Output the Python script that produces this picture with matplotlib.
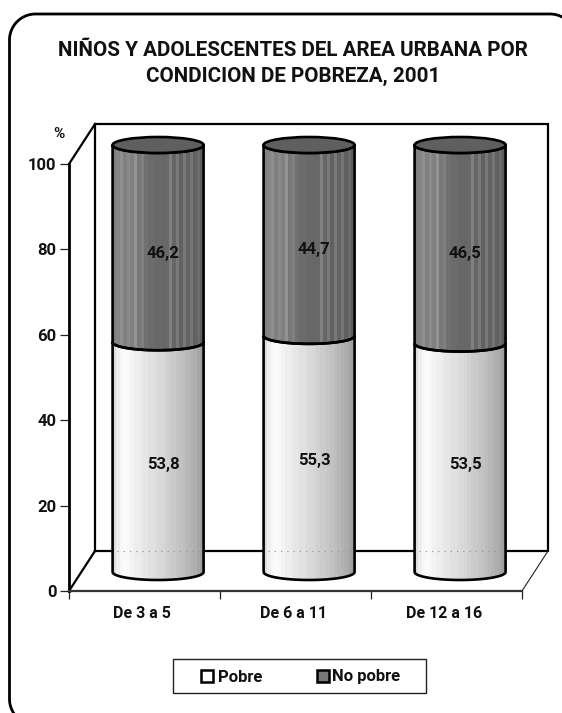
import numpy as np
import matplotlib
matplotlib.use("Agg")
import matplotlib.pyplot as plt
from matplotlib.patches import Ellipse, PathPatch, Rectangle
from matplotlib.path import Path

categories = ["De 3 a 5", "De 6 a 11", "De 12 a 16"]
pobre = [53.8, 55.3, 53.5]
no_pobre = [46.2, 44.7, 46.5]
pobre_labels = ["53,8", "55,3", "53,5"]
no_pobre_labels = ["46,2", "44,7", "46,5"]
y_ticks = [0, 20, 40, 60, 80, 100]
title = "NIÑOS Y ADOLESCENTES DEL AREA URBANA POR\nCONDICION DE POBREZA, 2001"

W, H = 562, 713
plt.rcParams["font.family"] = "Roboto"
plt.rcParams["font.weight"] = "bold"

fig = plt.figure(figsize=(W / 100, H / 100), dpi=100, facecolor="white")

# page-level layer in pixels (frame, title, legend)
page = fig.add_axes([0, 0, 1, 1], zorder=0)
page.set_xlim(0, W); page.set_ylim(H, 0); page.axis("off")


def corner(cx, cy, r, a0, a1):
    a = np.radians(np.linspace(a0, a1, 30))
    return np.column_stack([cx + r * np.cos(a), cy + r * np.sin(a)])


fx0, fy0, fx1, fy1, fr = 9.5, 14, 576, 725, 26
frame = np.vstack([
    corner(fx0 + fr, fy1 - fr, fr, 90, 180),
    corner(fx0 + fr, fy0 + fr, fr, 180, 270),
    corner(fx1 - fr, fy0 + fr, fr, 270, 360),
    corner(fx1 - fr, fy1 - fr, fr, 0, 90),
])
page.plot(frame[:, 0], frame[:, 1], color="black", lw=2.0)

page.text(293, 50, title.split("\n")[0], ha="center", va="center", fontsize=14.9, color="#111111")
page.text(293, 76, title.split("\n")[1], ha="center", va="center", fontsize=14.9, color="#111111")

page.add_patch(Rectangle((173, 659), 253, 34, fc="white", ec="#222222", lw=1.0))
page.add_patch(Rectangle((201, 670), 12, 12, fc="white", ec="black", lw=1.8))
page.add_patch(Rectangle((316.5, 670), 12, 12, fc="#777777", ec="black", lw=1.8))
page.text(218, 677, "Pobre", ha="left", va="center", fontsize=12, color="#111111")
page.text(332, 677, "No pobre", ha="left", va="center", fontsize=12, color="#111111")

# chart layer: axes whose box is the front plane of the 3-D plot
L, R, T, B = 69, 522, 164, 591
ax = fig.add_axes([L / W, 1 - B / H, (R - L) / W, (B - T) / H], zorder=1)
ax.patch.set_alpha(0)
ax.set_xlim(0, 3); ax.set_ylim(0, 100)
for s in ax.spines.values():
    s.set_visible(False)
px_x = 3 / (R - L)
px_y = 100 / (B - T)
dx, dy = 26 * px_x, 40 * px_y

# walls
lw_w = 1.6
ax.plot([dx, 3 + dx, 3 + dx, dx, dx], [dy, dy, 100 + dy, 100 + dy, dy], color="black", lw=lw_w, clip_on=False, zorder=2, solid_joinstyle="miter")
ax.plot([0, dx], [100, 100 + dy], color="black", lw=lw_w, clip_on=False, zorder=2)
ax.plot([0, dx], [0, dy], color="black", lw=lw_w, clip_on=False, zorder=2)
ax.plot([3, 3 + dx], [0, dy], color="#222222", lw=0.8, clip_on=False, zorder=2)
ax.plot([0, 0], [0, 100], color="black", lw=2.0, clip_on=False, zorder=3)
ax.plot([0, 3], [0, 0], color="#333333", lw=1.6, clip_on=False, zorder=3)

ax.set_xticks([0, 1, 2, 3])
ax.set_xticklabels([])
ax.set_yticks(y_ticks)
ax.set_yticklabels([str(v) for v in y_ticks], fontsize=12, color="#111111")
ax.tick_params(axis="y", length=6.5, width=0.9, color="#222222", pad=2.5)
ax.tick_params(axis="x", length=5.5, width=0.9, color="#222222")
for i, c in enumerate(categories):
    ax.annotate(c, xy=(i + 0.5, 0), xytext=(-2.5, -22), textcoords="offset pixels", ha="center", va="center",
                fontsize=11.5, color="#111111", annotation_clip=False)
ax.annotate("%", xy=(0, 100), xytext=(-10, 30), textcoords="offset pixels", ha="center", va="center",
            fontsize=11, color="#111111", annotation_clip=False)

# vertical shading of the cylinders
shade_light = np.array([.86, .93, .97, .98, .97, .95, .93, .93, .91, .90, .88, .88, .86, .85, .84, .82,
                        .80, .79, .77, .76, .74, .72, .70, .68, .65, .62])
shade_dark = np.array([.50, .52, .56, .50, .54, .50, .58, .47, .50, .44, .42, .42, .41, .41, .40, .41,
                       .50, .40, .48, .38, .47, .39, .46, .38, .42, .36])

half_w = 0.5 * 91 * px_x
ell_h = 8 * px_y
base = 19 * px_y
offset = 0.59


def body(c, y0, y1):
    t = np.linspace(np.pi, 2 * np.pi, 60)
    lower = np.column_stack([c + half_w * np.cos(t), y0 + ell_h * np.sin(t)])
    upper = np.column_stack([c + half_w * np.cos(t[::-1]), y1 + ell_h * np.sin(t[::-1])])
    return np.vstack([lower, upper, lower[:1]])


def segment(c, y0, y1, shade, z):
    verts = body(c, y0, y1)
    outline = PathPatch(Path(verts), fc="none", ec="black", lw=1.9, clip_on=False, zorder=z + 1, joinstyle="round")
    im = ax.imshow(shade[None, :], cmap="gray", vmin=0, vmax=1, aspect="auto", interpolation="nearest",
                   extent=(c - half_w, c + half_w, y0 - ell_h, y1 + ell_h), zorder=z)
    im.set_clip_box(fig.bbox)
    im.set_clip_path(Path(verts), transform=ax.transData)
    ax.add_patch(outline)


for i in range(len(categories)):
    c = i + offset
    low = pobre[i]
    high = pobre[i] + no_pobre[i]
    segment(c, base, base + low, shade_light, 4)
    segment(c, base + low, base + high, shade_dark, 4)
    ax.add_patch(Ellipse((c, base + high), 2 * half_w, 2 * ell_h, fc="#5f5f5f", ec="black", lw=1.9, clip_on=False, zorder=7))
    # wall line faintly seen through the cylinder
    ax.plot([c - half_w * 0.9, c + half_w * 0.9], [dy, dy], color="#999999", lw=0.9, ls=(0, (1, 4)), clip_on=False, zorder=6)
    ax.annotate(no_pobre_labels[i], xy=(c, base + low + no_pobre[i] / 2), xytext=(5, -9.5), textcoords="offset pixels",
                ha="center", va="center", fontsize=12, color="#111111", zorder=8, annotation_clip=False)
    ax.annotate(pobre_labels[i], xy=(c, base + low / 2), xytext=(5, -7), textcoords="offset pixels",
                ha="center", va="center", fontsize=12, color="#111111", zorder=8, annotation_clip=False)

ax.set_xlim(0, 3); ax.set_ylim(0, 100)
fig.savefig("out.png", dpi=100, facecolor="white")
